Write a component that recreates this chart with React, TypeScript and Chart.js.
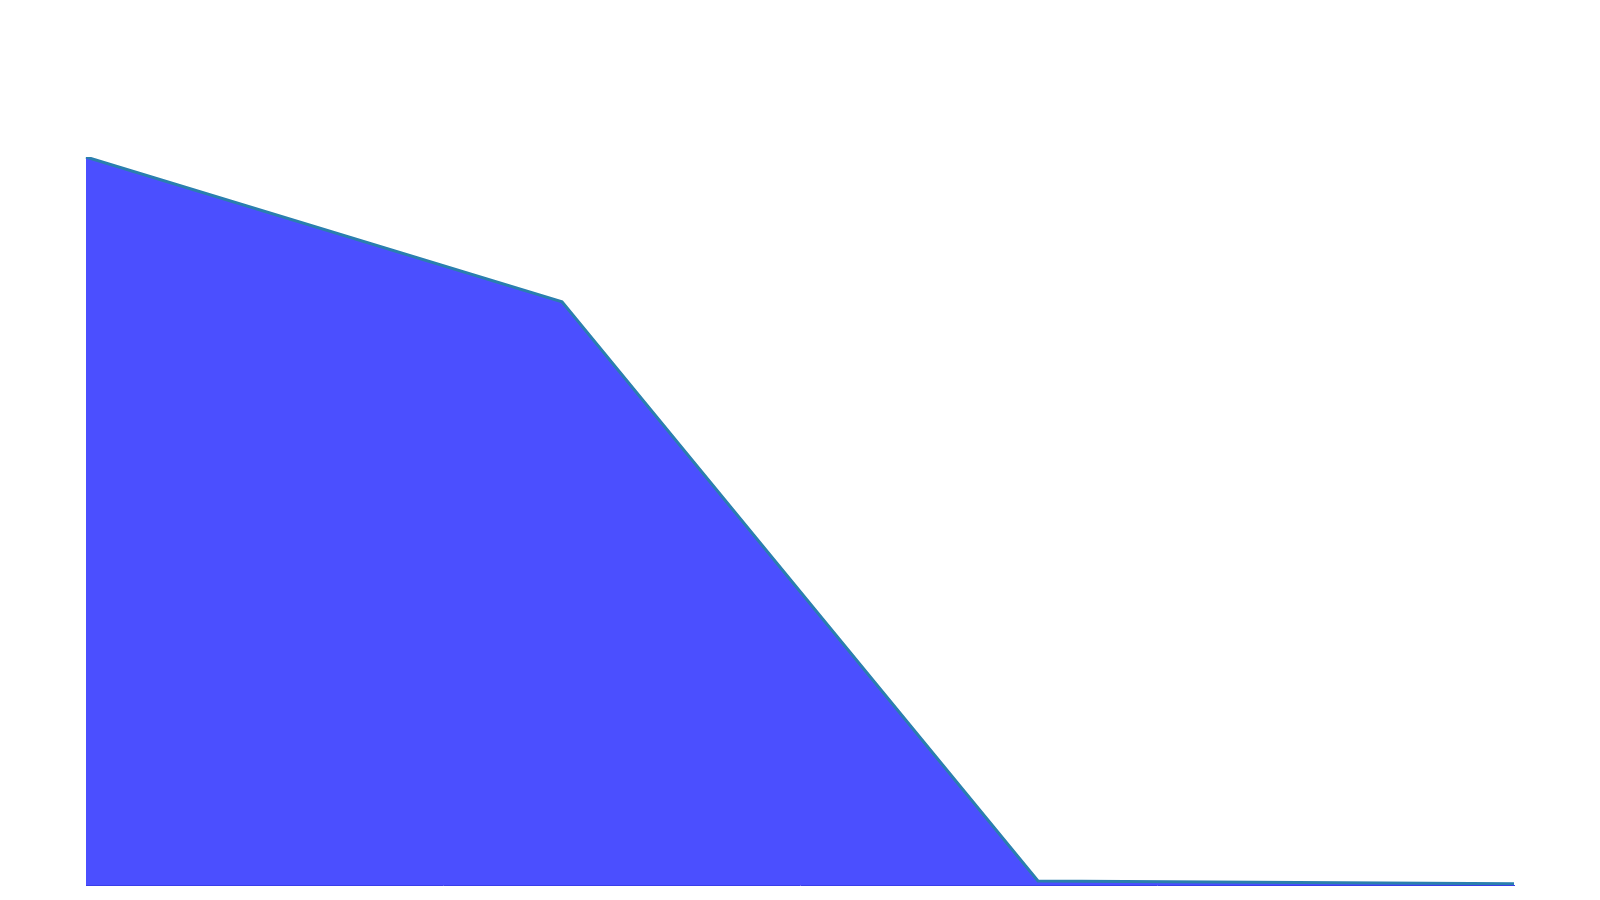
import React, { useEffect, useRef } from "react";
import { Chart, registerables } from "chart.js";

Chart.register(...registerables);

const categories = ["A", "B", "C", "D"];
const values = [91.0, 72.9, 0.5, 0.16];

export default function App() {
  const ref = useRef<HTMLCanvasElement | null>(null);
  useEffect(() => {
    if (!ref.current) return;
    const axisStyle = {
      display: true,
      grid: { display: false, drawTicks: false },
      ticks: { display: false },
      border: { display: true, color: "#3a3ee8", width: 1 },
    };
    const chart = new Chart(ref.current, {
      type: "line",
      data: {
        labels: categories,
        datasets: [
          {
            data: values,
            borderColor: "#2a7fae",
            backgroundColor: "#4b4fff",
            borderWidth: 3,
            fill: "origin",
            pointRadius: 0,
            tension: 0,
          },
        ],
      },
      options: {
        animation: false,
        responsive: false,
        layout: { padding: { left: 86, right: 86, top: 157, bottom: 15 } },
        plugins: { legend: { display: false }, tooltip: { enabled: false } },
        scales: {
          x: { ...axisStyle },
          y: { ...axisStyle, min: 0, max: Math.max(...values) },
        },
      },
    });
    return () => chart.destroy();
  }, []);
  return (
    <div style={{ position: "fixed", left: 0, top: 0, width: 1600, height: 900, background: "#fff" }}>
      <canvas ref={ref} width={1600} height={900} />
    </div>
  );
}
